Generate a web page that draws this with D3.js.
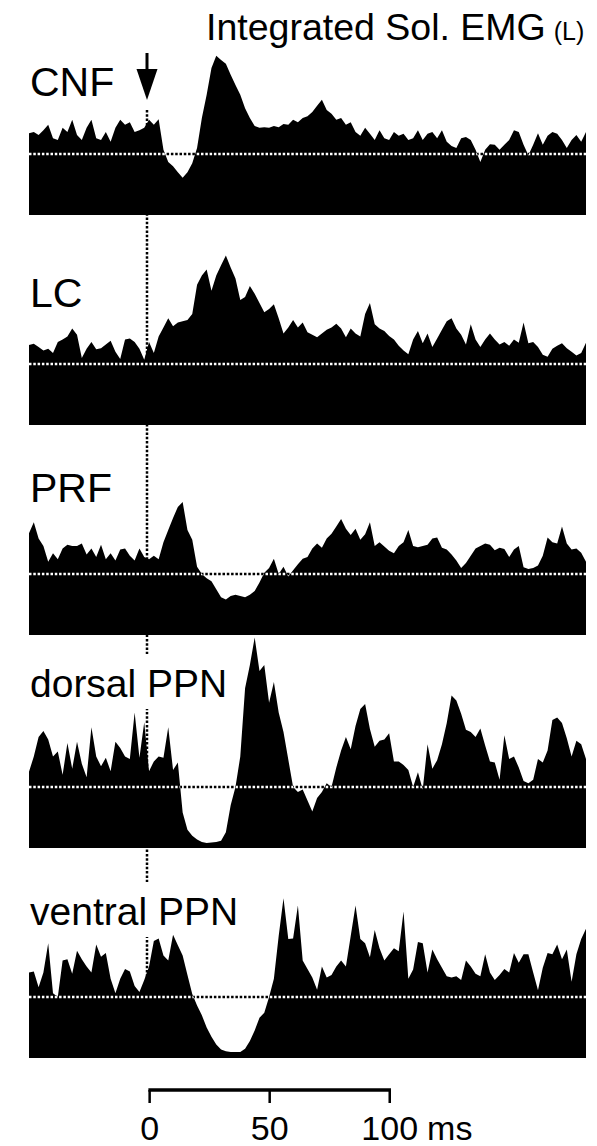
<!DOCTYPE html>
<html>
<head>
<meta charset="utf-8">
<script src="https://cdn.jsdelivr.net/npm/d3@7/dist/d3.min.js"></script>
<style>
  html, body { margin: 0; padding: 0; background: #fff; }
  svg { display: block; }
  text { font-family: "Liberation Sans", Arial, Helvetica, sans-serif; fill: #000; }
</style>
</head>
<body>
<svg id="chart" width="597" height="1146"></svg>
<script>
// Integrated soleus EMG averages (percent of control level, 100 = dotted line),
// 2 ms bins starting at -49 ms relative to stimulus onset.
const binStart = -49;
const binWidth = 2;

const regions = ["CNF", "LC", "PRF", "dorsal PPN", "ventral PPN"];

const cnf = [134,136,131,139,148,126,123,143,136,156,131,123,143,156,126,123,136,120,143,156,
  148,152,136,139,143,156,148,157,107,87,80,70,61,70,85,110,159,197,241,261,
  254,248,230,213,197,175,159,146,143,144,143,146,144,149,148,156,152,159,162,169,
  179,189,172,166,156,159,148,152,136,130,143,133,123,139,126,123,136,130,133,123,
  126,139,123,133,136,126,139,120,113,110,126,128,123,107,87,107,116,115,107,115,
  123,139,136,115,98,115,134,115,130,136,133,123,110,123,131,120,136];

const lc = [131,133,128,122,125,118,136,140,145,158,148,110,125,136,124,126,132,138,120,108,
  140,142,136,125,107,136,118,145,160,175,162,168,170,172,182,230,245,255,220,245,
  262,278,258,240,205,210,228,215,200,185,190,198,175,150,160,172,160,168,152,148,
  144,150,156,160,166,158,144,158,150,145,182,200,165,158,154,146,140,130,122,116,
  140,154,134,150,128,142,156,170,175,158,148,132,165,140,128,140,150,140,132,136,
  130,140,135,168,134,136,128,115,112,125,130,134,126,120,114,118,135];

const prf = [167,185,158,146,120,134,124,142,148,146,146,150,132,142,128,148,124,134,122,140,
  142,130,122,142,128,124,130,124,152,172,192,210,218,172,156,112,100,93,88,75,
  62,58,64,66,64,62,66,72,86,102,110,125,100,112,96,106,116,125,128,142,
  150,143,158,166,178,190,174,164,174,156,165,185,146,152,145,138,134,146,152,172,
  146,144,146,148,158,160,143,140,132,122,110,118,130,142,146,150,148,139,143,141,
  128,140,146,111,108,110,114,130,160,152,150,178,150,140,142,135,120];

const dorsalPPN = [125,150,182,192,178,150,158,120,172,130,174,138,116,198,150,134,148,126,174,164,
  150,146,222,148,206,126,142,150,148,198,128,140,58,30,20,14,10,8,9,10,
  12,26,70,100,150,262,300,345,290,300,238,272,222,190,145,100,92,96,78,60,
  82,92,106,100,132,160,182,162,200,228,236,195,166,176,178,188,142,142,136,128,
  100,124,96,170,130,144,170,205,250,242,220,194,190,182,196,168,142,140,112,185,
  146,150,132,110,106,112,146,140,160,210,214,205,180,150,176,170,146];

const ventralPPN = [140,142,116,140,188,106,100,160,162,138,176,162,150,140,186,166,172,130,106,130,
  146,142,118,108,128,150,192,196,168,160,202,185,168,136,105,86,70,50,35,22,
  14,11,10,10,10,15,28,45,66,74,100,130,200,262,195,196,250,160,146,132,
  112,150,132,136,150,160,150,200,250,195,188,165,210,180,160,170,180,175,240,130,
  145,190,188,140,178,162,148,134,132,134,128,160,150,138,134,170,140,128,136,146,
  140,172,156,170,170,140,111,148,172,170,186,162,178,125,170,195,212];

const seriesList = [cnf, lc, prf, dorsalPPN, ventralPPN];

// Scale bar ticks (ms)
const scaleTicks = [0, 50, 100];
const scaleUnit = "ms";

const titleMain = "Integrated Sol. EMG";
const titleSide = "(L)";

// ---- layout ----
const svg = d3.select("#chart");
const dots = "2.5,1.8";

const x = d3.scaleLinear()
  .domain([binStart, binStart + binWidth * (cnf.length - 1)])
  .range([29, 586]);

const panelBottoms = [215, 425, 635, 848, 1058];
const pxPerUnit = 0.61;
const yScales = panelBottoms.map(b => d3.scaleLinear().domain([0, 100]).range([b, b - 100 * pxPerUnit]));

const labelSpecs = [
  { y: 96, size: 41 },
  { y: 307, size: 41 },
  { y: 502, size: 41 },
  { y: 697, size: 39 },
  { y: 925, size: 39 }
];

const x0 = Math.round(x(0));

// Stimulus marker: dotted vertical line through all panels
svg.append("line")
  .attr("x1", x0).attr("x2", x0)
  .attr("y1", 110).attr("y2", panelBottoms[4])
  .attr("stroke", "#000")
  .attr("stroke-width", 2.5)
  .attr("stroke-dasharray", dots);

// background rects hide the stimulus line behind wide labels
const labelBg = svg.append("g");
const panelsG = svg.append("g");
const labelsG = svg.append("g");

seriesList.forEach((vals, k) => {
  const y = yScales[k];
  const pts = vals.map((v, i) => ({ t: binStart + i * binWidth, v }));
  const g = panelsG.append("g");
  const refY = Math.round(y(100));

  // black dotted reference line (visible where EMG falls below control)
  g.append("line")
    .attr("x1", x.range()[0]).attr("x2", x.range()[1])
    .attr("y1", refY).attr("y2", refY)
    .attr("stroke", "#000").attr("stroke-width", 2.5)
    .attr("stroke-dasharray", dots);

  const area = d3.area()
    .x(d => x(d.t))
    .y0(y(0))
    .y1(d => y(d.v))
    .curve(d3.curveLinear);

  g.append("path")
    .datum(pts)
    .attr("d", area)
    .attr("fill", "#000");

  const clipId = "clip-" + k;
  svg.append("clipPath").attr("id", clipId)
    .append("path").datum(pts).attr("d", area);

  // white dotted reference line over the filled area
  g.append("line")
    .attr("clip-path", `url(#${clipId})`)
    .attr("x1", x.range()[0]).attr("x2", x.range()[1])
    .attr("y1", refY).attr("y2", refY)
    .attr("stroke", "#fff").attr("stroke-width", 2.5)
    .attr("stroke-dasharray", dots);

  const spec = labelSpecs[k];
  const label = labelsG.append("text")
    .attr("x", 30)
    .attr("y", spec.y)
    .attr("font-size", spec.size)
    .text(regions[k]);

  const bb = label.node().getBBox();
  if (bb.x + bb.width > x0) {
    labelBg.append("rect")
      .attr("x", x0 - 4).attr("width", 8)
      .attr("y", bb.y - 8).attr("height", bb.height + 12)
      .attr("fill", "#fff");
  }
});

// Title
const title = svg.append("text")
  .attr("x", 206)
  .attr("y", 40)
  .attr("font-size", 37.5);
title.append("tspan").text(titleMain);
title.append("tspan").attr("font-size", 25).attr("dx", 8).text(titleSide);

// Stimulus arrow
svg.append("line")
  .attr("x1", x0).attr("x2", x0)
  .attr("y1", 53).attr("y2", 72)
  .attr("stroke", "#000").attr("stroke-width", 3);
svg.append("path")
  .attr("d", `M${x0 - 10.5},69 L${x0 + 10.5},69 L${x0},100 Z`)
  .attr("fill", "#000");

// Time scale bar
const barOffset = 3;
const barY = 1090;
const sb = svg.append("g").attr("transform", `translate(${barOffset},0)`);
sb.append("line")
  .attr("x1", x(scaleTicks[0]) - 1.25).attr("x2", x(scaleTicks[scaleTicks.length - 1]) + 1.25)
  .attr("y1", barY).attr("y2", barY)
  .attr("stroke", "#000").attr("stroke-width", 3.5);
sb.selectAll("line.tick").data(scaleTicks).enter().append("line")
  .attr("class", "tick")
  .attr("x1", d => x(d)).attr("x2", d => x(d))
  .attr("y1", barY).attr("y2", barY + 13)
  .attr("stroke", "#000").attr("stroke-width", 2.5);
sb.selectAll("text.tl").data(scaleTicks).enter().append("text")
  .attr("class", "tl")
  .attr("x", d => x(d))
  .attr("y", 1140)
  .attr("font-size", 34)
  .attr("text-anchor", "middle")
  .text(d => d);
const lastTick = scaleTicks[scaleTicks.length - 1];
const lastLabel = sb.selectAll("text.tl").filter(d => d === lastTick).node().getBBox();
sb.append("text")
  .attr("x", lastLabel.x + lastLabel.width + 9)
  .attr("y", 1140)
  .attr("font-size", 34)
  .text(scaleUnit);
</script>
</body>
</html>
